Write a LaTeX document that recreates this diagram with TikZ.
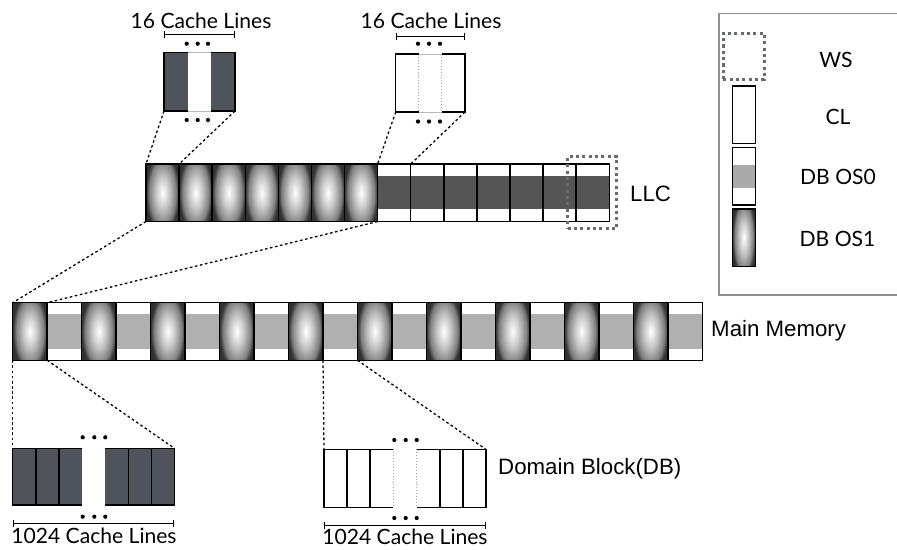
\documentclass[tikz,border=0pt]{standalone}
\usepackage{fontspec}
\setmainfont{Lato}
\newfontfamily\arialfont{Liberation Sans}
\usetikzlibrary{positioning,calc,arrows.meta}

\definecolor{bandgray}{HTML}{B0B0B0}
\definecolor{legendgray}{HTML}{AAAAAA}
\definecolor{llcgray}{HTML}{555555}
\definecolor{slategray}{HTML}{4F545B}
\definecolor{wsgray}{HTML}{686C72}
\definecolor{framegray}{HTML}{909090}

\pgfdeclareradialshading{cellglow}{\pgfpoint{0bp}{0bp}}{color(0bp)=(white); color(10bp)=(black!22); color(20bp)=(black!50); color(25bp)=(black!80); color(50bp)=(black!86)}

\begin{document}
\begin{tikzpicture}[x=0.03cm, y=-0.03cm,
    cellbox/.style 2 args={rectangle, inner sep=0pt, outer sep=0pt,
        minimum width=#1*0.03cm, minimum height=#2*0.03cm, anchor=north west},
    cellline/.style={line width=1.3pt},
    osone/.style={draw, cellline, path picture={
        \shade[shading=cellglow] ($(path picture bounding box.north west)+(0,9pt)$)
            rectangle ($(path picture bounding box.south east)+(0,-9pt)$);}},
    oszero/.style 2 args={draw, cellline, fill=white, path picture={
        \fill[#1] ($(path picture bounding box.north west)!#2!(path picture bounding box.south west)$)
            rectangle ($(path picture bounding box.south east)!#2!(path picture bounding box.north east)$);}},
    dotline/.style={line width=1.1pt, dash pattern=on 2.2pt off 2.2pt},
    wsbox/.style={draw=wsgray, line width=2.6pt, dash pattern=on 2.6pt off 2.8pt,
        rectangle, inner sep=0pt},
    gapline/.style={gray!55, line width=0.4pt},
    gapdots/.style={gray!70, line width=0.5pt, dotted},
    bracket/.style={{Bar[width=6pt]}-{Bar[width=6pt]}, line width=0.9pt},
    gtext/.style={font=\fontsize{18}{21}\selectfont, inner sep=0pt},
    atext/.style={font=\arialfont\fontsize{19}{22}\selectfont, inner sep=0pt, anchor=west}]
    \useasboundingbox (0,0) rectangle (897,549);

    % 1. Main memory
    \foreach \i in {0,...,19} {
        \ifodd\i
            \node[cellbox={34.48}{57.6}, oszero={bandgray}{0.2}] (mm\i) at ({12.7+34.48*\i},302.7) {};
        \else
            \node[cellbox={34.48}{57.6}, osone] (mm\i) at ({12.7+34.48*\i},302.7) {};
        \fi
    }
    \node[atext] (mmlabel) at (711,330.5) {Main Memory};

    % 2. LLC with working set
    \foreach \i in {0,...,13} {
        \ifnum\i<7
            \node[cellbox={33.09}{57.5}, osone] (llc\i) at ({146+33.09*\i},164) {};
        \else
            \node[cellbox={33.09}{57.5}, oszero={llcgray}{0.21}] (llc\i) at ({146+33.09*\i},164) {};
        \fi
    }
    \node[wsbox, minimum width=49*0.03cm, minimum height=71.6*0.03cm] (ws) at (592.2,192.5) {};
    \node[atext] (llclabel) at (630,194) {LLC};

    % 3. 16 cache lines (top)
    \node[cellbox={24.3}{58.5}, fill=slategray] (tla) at (164,52.5) {};
    \node[cellbox={24.3}{58.5}, fill=slategray] (tlb) at (210.7,52.5) {};
    \draw[gapline] (tla.north east) -- (tlb.north west) (tla.south east) -- (tlb.south west);
    \draw[cellline] (tla.north east) -- (tla.north west) -- (tla.south west) -- (tla.south east);
    \draw[cellline] (tlb.north west) -- (tlb.north east) -- (tlb.south east) -- (tlb.south west);
    \node[gtext] (tlcap) at (201,20.5) {16 Cache Lines};
    \draw[bracket] ($(tla.north west)+(0,15.3pt)$) -- ($(tlb.north east)+(0,15.3pt)$);
    \foreach \x in {186.7,197.7,208} {
        \fill (\x,43.7) circle (1.8pt);
        \fill (\x,120) circle (1.8pt);
    }

    \node[cellbox={23}{58}, fill=white] (tra) at (395.7,54) {};
    \node[cellbox={23.3}{58}, fill=white] (trb) at (441.7,54) {};
    \draw[gapline] (tra.north east) -- (trb.north west) (tra.south east) -- (trb.south west);
    \draw[gapdots] (tra.north east) -- (tra.south east) (trb.north west) -- (trb.south west);
    \draw[cellline] (tra.north east) -- (tra.north west) -- (tra.south west) -- (tra.south east);
    \draw[cellline] (trb.north west) -- (trb.north east) -- (trb.south east) -- (trb.south west);
    \node[gtext] (trcap) at (431,21) {16 Cache Lines};
    \draw[bracket] ($(tra.north west)+(0,15pt)$) -- ($(trb.north east)+(0,15pt)$);
    \foreach \x in {418,429,440} {
        \fill (\x,43.7) circle (1.8pt);
        \fill (\x,121.5) circle (1.8pt);
    }

    % 4. 1024 cache lines (bottom)
    \foreach \x [count=\k] in {12.7,35.9,59.1,105.3,128.3,151.3}
        \node[cellbox={23.1}{56.7}, fill=slategray] (dl\k) at (\x,448.3) {};
    \draw[cellline] (dl3.north east) -- (dl1.north west) -- (dl1.south west) -- (dl3.south east);
    \draw[cellline] (dl4.north west) -- (dl6.north east) -- (dl6.south east) -- (dl4.south west);
    \draw[cellline] (dl1.north east) -- (dl1.south east) (dl2.north east) -- (dl2.south east)
        (dl4.north east) -- (dl4.south east) (dl5.north east) -- (dl5.south east);
    \node[gtext] (dlcap) at (94,536) {1024 Cache Lines};
    \draw[bracket] ($(dl1.south west)+(0,-16pt)$) -- ($(dl6.south east)+(0,-16pt)$);
    \foreach \x in {82.7,94.3,105.3} {
        \fill (\x,437.3) circle (1.8pt);
        \fill (\x,516.7) circle (1.8pt);
    }

    \foreach \x [count=\k] in {324,347.1,370.2,416.7,439.7,462.7}
        \node[cellbox={23.1}{58.4}, fill=white] (wl\k) at (\x,449.3) {};
    \draw[gapdots] (wl3.north east) -- (wl3.south east) (wl4.north west) -- (wl4.south west);
    \draw[cellline] (wl3.north east) -- (wl1.north west) -- (wl1.south west) -- (wl3.south east);
    \draw[cellline] (wl4.north west) -- (wl6.north east) -- (wl6.south east) -- (wl4.south west);
    \draw[cellline] (wl1.north east) -- (wl1.south east) (wl2.north east) -- (wl2.south east)
        (wl4.north east) -- (wl4.south east) (wl5.north east) -- (wl5.south east);
    \node[gtext] (wlcap) at (405,537) {1024 Cache Lines};
    \draw[bracket] ($(wl1.south west)+(0,-15pt)$) -- ($(wl6.south east)+(0,-15pt)$);
    \foreach \x in {394.3,405.7,416.7} {
        \fill (\x,440) circle (1.8pt);
        \fill (\x,518) circle (1.8pt);
    }
    \node[atext] (dblabel) at (498,469) {Domain Block(DB)};

    % 5. Dotted connectors
    \draw[dotline] (tla.south west) -- (llc0.north west);
    \draw[dotline] (tlb.south east) -- (llc0.north east);
    \draw[dotline] (tra.south west) -- (llc7.north west);
    \draw[dotline] (trb.south east) -- (llc7.north east);
    \draw[dotline] (llc0.south west) -- (mm0.north west);
    \draw[dotline] (llc6.south east) -- (mm0.north east);
    \draw[dotline] (mm0.south west) -- (dl1.north west);
    \draw[dotline] (mm0.south east) -- (dl6.north east);
    \draw[dotline] (mm9.south west) -- (wl1.north west);
    \draw[dotline] (mm9.south east) -- (wl6.north east);

    % 6. Legend
    \draw[framegray, line width=1.1pt] (897,13.3) -- (719,13.3) -- (719,295) -- (897,295);
    \node[wsbox, minimum width=41*0.03cm, minimum height=46*0.03cm] (lgws) at (743.8,56.3) {};
    \node[cellbox={23}{57.3}, draw, cellline, fill=white] (lgcl) at (732.3,86) {};
    \node[cellbox={23}{57.3}, oszero={legendgray}{0.3}] (lgzero) at (732.3,147.7) {};
    \node[cellbox={23}{57.3}, osone] (lgone) at (732.3,209) {};
    \node[gtext] (lgwstext) at (836,60) {WS};
    \node[gtext] (lgcltext) at (838,117) {CL};
    \node[gtext] (lgzerotext) at (838,176.7) {DB OS0};
    \node[gtext] (lgonetext) at (837.5,239) {DB OS1};
\end{tikzpicture}
\end{document}
